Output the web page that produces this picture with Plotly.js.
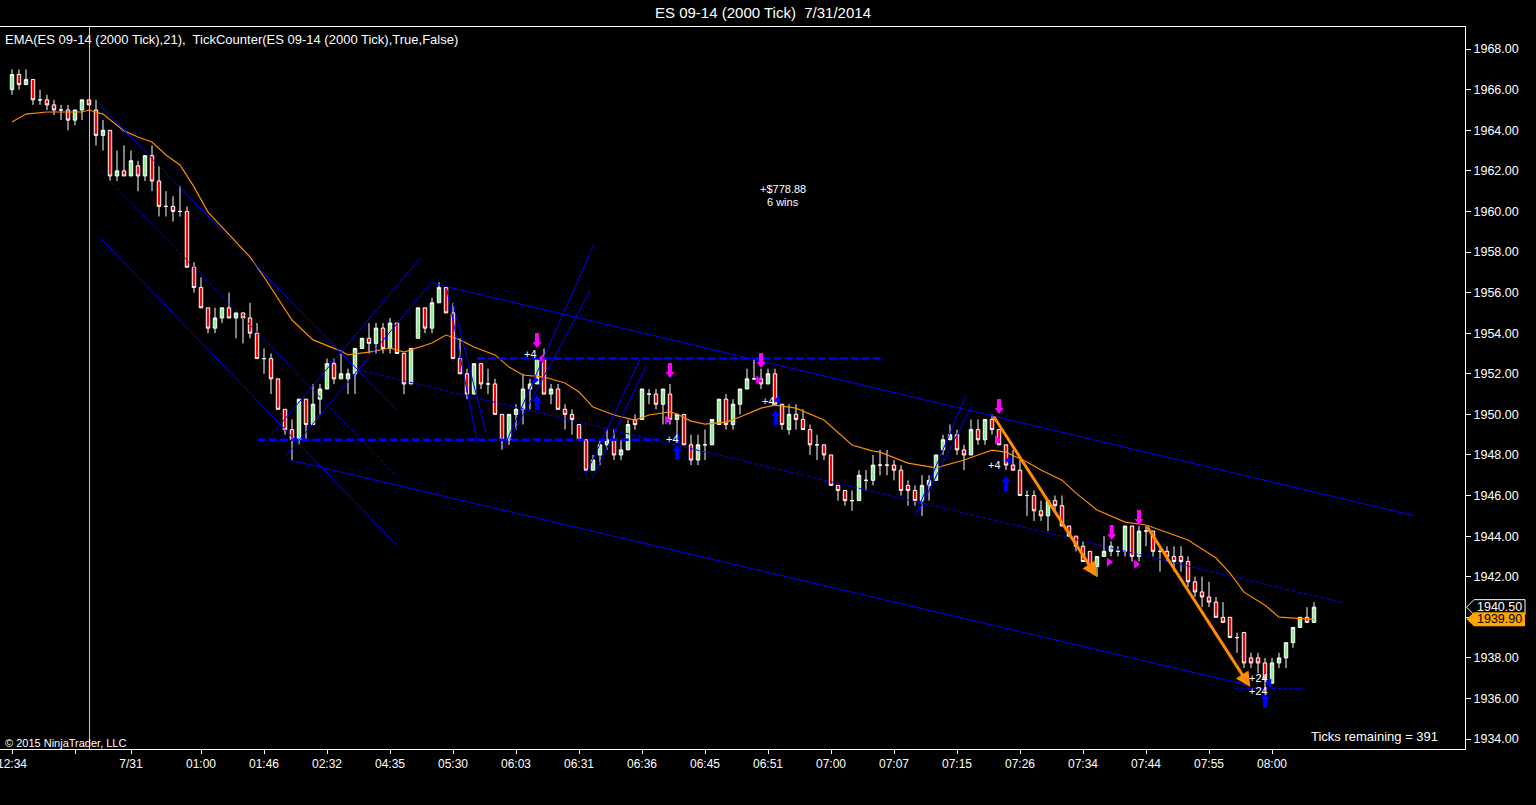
<!DOCTYPE html>
<html><head><meta charset="utf-8">
<script src="https://cdn.plot.ly/plotly-3.0.1.min.js"></script>
<style>html,body{margin:0;padding:0;background:#000;overflow:hidden}#chart{width:1536px;height:805px}</style>
</head><body><div id="chart"></div>
<script>
// ---------- price bars (ES 09-14, 2000 tick) ----------
const open = [
1966.00,1966.75,1966.25,1966.50,1965.50,1965.50,1965.25,1965.00,1965.00,1964.50,
1965.00,1965.50,1965.00,1963.75,1964.00,1961.75,1962.00,1961.75,1962.25,1961.75,
1962.75,1961.50,1960.25,1960.25,1960.00,1960.00,1957.25,1956.25,1955.25,1954.25,
1954.75,1955.25,1954.75,1955.00,1954.75,1954.00,1952.75,1952.75,1951.75,1950.25,
1949.25,1948.75,1950.75,1949.50,1950.75,1951.25,1952.50,1951.75,1951.75,1952.00,
1953.25,1953.75,1953.50,1954.25,1953.25,1954.50,1953.00,1951.50,1953.75,1955.25,
1954.25,1955.50,1956.25,1955.00,1952.75,1952.00,1951.00,1952.50,1951.50,1951.50,
1950.00,1948.75,1950.00,1950.25,1951.25,1951.50,1952.75,1951.00,1951.25,1950.25,
1950.00,1949.50,1948.75,1947.25,1948.00,1948.50,1948.75,1948.00,1948.25,1949.75,
1949.75,1951.00,1951.00,1950.50,1951.00,1949.75,1950.00,1948.50,1947.75,1948.50,
1948.50,1949.50,1950.75,1949.50,1950.50,1951.25,1951.75,1951.75,1951.50,1952.00,
1950.50,1949.25,1950.00,1949.75,1949.25,1948.50,1948.50,1948.00,1946.50,1946.25,
1945.75,1945.75,1946.75,1946.75,1947.50,1947.50,1947.50,1947.25,1946.50,1946.25,
1945.75,1946.50,1946.75,1948.25,1948.75,1949.00,1948.25,1948.00,1949.25,1948.75,
1949.75,1949.25,1948.50,1947.50,1947.25,1946.00,1946.00,1945.25,1945.00,1945.75,
1945.50,1944.50,1944.00,1943.50,1943.25,1942.50,1943.00,1943.25,1943.25,1943.25,
1944.50,1943.00,1944.25,1944.25,1943.25,1943.25,1943.00,1943.00,1942.75,1941.75,
1941.25,1941.00,1940.75,1940.00,1940.00,1939.00,1939.25,1938.00,1938.00,1937.75,
1936.75,1937.75,1938.00,1938.75,1939.50,1940.00,1939.75
];
const high = [
1967.00,1967.00,1967.00,1966.50,1966.00,1965.75,1965.50,1965.25,1965.25,1965.00,
1965.50,1965.50,1965.50,1964.50,1964.00,1963.00,1963.25,1963.00,1962.50,1962.75,
1963.25,1962.25,1961.00,1960.75,1961.25,1960.25,1957.50,1956.75,1955.25,1955.25,
1955.25,1956.00,1955.00,1955.00,1955.50,1954.50,1953.25,1953.00,1951.75,1950.25,
1949.75,1950.75,1950.75,1951.50,1951.50,1952.75,1952.75,1953.00,1952.25,1953.25,
1953.75,1954.50,1954.50,1954.50,1954.75,1954.50,1953.00,1953.25,1955.25,1955.25,
1955.75,1956.50,1956.25,1955.50,1953.75,1952.25,1952.50,1952.50,1952.25,1951.75,
1950.00,1950.00,1950.50,1952.00,1951.75,1952.75,1953.25,1951.50,1951.50,1950.50,
1950.25,1949.50,1948.75,1948.00,1948.75,1949.25,1949.25,1948.75,1949.75,1950.00,
1951.25,1951.25,1951.25,1951.25,1951.50,1950.00,1950.00,1949.00,1949.00,1949.25,
1949.75,1950.75,1951.00,1950.75,1951.25,1952.25,1952.75,1952.25,1952.25,1952.25,
1950.50,1950.50,1950.50,1950.25,1949.50,1949.00,1948.50,1948.00,1946.50,1946.25,
1946.25,1947.25,1947.25,1948.00,1948.25,1948.25,1947.75,1947.50,1946.75,1946.50,
1947.00,1947.00,1948.00,1949.00,1949.50,1949.25,1948.50,1949.75,1949.75,1949.75,
1950.00,1949.25,1948.50,1948.25,1947.75,1946.25,1946.25,1945.75,1945.75,1946.00,
1946.00,1944.50,1944.00,1943.75,1943.25,1943.00,1944.00,1943.75,1943.50,1944.50,
1944.50,1944.50,1944.50,1944.25,1943.50,1943.50,1943.50,1943.50,1943.00,1942.00,
1942.00,1941.75,1941.00,1940.75,1940.00,1939.25,1939.25,1938.25,1938.25,1938.00,
1938.00,1938.25,1938.75,1939.50,1940.00,1940.50,1940.75
];
const low = [
1965.75,1966.00,1966.25,1965.25,1965.25,1965.00,1964.75,1964.50,1964.00,1964.25,
1964.50,1965.25,1963.25,1963.00,1961.50,1961.50,1961.75,1961.75,1961.00,1961.50,
1961.00,1959.75,1959.75,1959.50,1959.75,1957.25,1956.00,1955.25,1954.00,1954.00,
1954.50,1954.75,1953.75,1953.50,1953.75,1952.75,1952.00,1951.00,1950.25,1949.00,
1947.75,1948.50,1948.75,1949.50,1950.00,1951.25,1951.50,1951.75,1951.00,1951.00,
1953.25,1953.00,1953.00,1953.00,1953.00,1953.00,1951.00,1951.50,1953.75,1954.00,
1954.00,1955.50,1955.00,1952.75,1952.00,1950.75,1951.00,1951.25,1951.00,1950.00,
1948.25,1948.50,1949.25,1949.50,1950.25,1951.50,1951.00,1950.50,1950.25,1949.25,
1949.00,1948.75,1947.25,1947.25,1947.50,1948.25,1947.75,1947.75,1948.25,1949.25,
1949.75,1950.50,1950.25,1949.50,1949.50,1948.75,1948.50,1947.50,1947.50,1947.75,
1948.50,1949.50,1949.25,1949.25,1950.00,1951.25,1951.75,1951.25,1951.50,1950.50,
1949.25,1949.00,1949.25,1949.25,1948.00,1947.75,1947.75,1946.50,1945.75,1945.50,
1945.25,1945.75,1946.25,1946.50,1947.00,1947.00,1946.75,1946.00,1945.50,1945.50,
1945.00,1945.75,1946.75,1948.00,1948.75,1948.00,1947.25,1948.00,1948.50,1948.50,
1949.00,1948.50,1947.25,1947.25,1946.00,1945.00,1944.75,1944.75,1944.25,1945.25,
1944.50,1944.00,1943.25,1942.75,1942.25,1942.00,1943.00,1943.00,1943.00,1943.00,
1942.75,1942.75,1943.50,1943.00,1942.25,1942.75,1942.25,1942.25,1941.50,1941.00,
1940.50,1940.50,1940.00,1939.75,1939.00,1938.25,1937.50,1937.50,1937.25,1936.00,
1936.75,1937.50,1937.50,1938.50,1939.50,1939.75,1939.75
];
const close = [
1966.75,1966.25,1966.50,1965.50,1965.50,1965.25,1965.00,1965.00,1964.50,1965.00,
1965.50,1965.25,1963.75,1964.00,1961.75,1962.00,1961.75,1962.50,1961.75,1962.75,
1961.50,1960.25,1960.25,1960.00,1960.00,1957.25,1956.25,1955.25,1954.25,1954.75,
1955.25,1954.75,1955.00,1954.75,1954.00,1952.75,1952.75,1951.75,1950.25,1949.25,
1948.75,1950.75,1949.50,1950.50,1951.25,1952.50,1951.75,1952.00,1952.00,1953.25,
1953.75,1953.50,1954.25,1953.25,1954.50,1953.00,1951.50,1953.25,1955.25,1954.25,
1955.50,1956.25,1955.00,1952.75,1952.00,1951.00,1952.50,1951.50,1951.50,1950.00,
1948.75,1950.00,1950.25,1951.25,1951.50,1952.75,1951.00,1951.25,1950.25,1950.00,
1949.75,1948.75,1947.25,1947.75,1948.50,1948.75,1948.00,1948.25,1949.50,1949.50,
1951.25,1951.00,1950.50,1951.25,1949.75,1950.00,1948.50,1947.75,1948.50,1948.50,
1949.75,1950.75,1949.50,1950.50,1951.25,1951.75,1951.75,1951.50,1952.00,1950.50,
1949.50,1950.00,1949.75,1949.25,1948.50,1948.50,1948.00,1946.50,1946.25,1945.75,
1945.75,1947.00,1946.75,1947.50,1947.50,1947.50,1947.25,1946.25,1946.25,1945.75,
1946.50,1946.75,1948.00,1948.75,1949.00,1948.25,1948.00,1949.25,1948.75,1949.75,
1949.25,1948.50,1947.50,1947.25,1946.00,1946.00,1945.25,1945.00,1945.75,1945.50,
1944.50,1944.00,1943.50,1942.75,1942.50,1943.00,1943.25,1943.50,1943.25,1944.50,
1943.00,1944.25,1944.25,1943.25,1943.25,1943.00,1942.75,1942.75,1941.75,1941.25,
1941.00,1940.75,1940.00,1939.75,1939.00,1939.00,1937.75,1937.75,1937.75,1937.00,
1937.75,1938.00,1938.75,1939.50,1940.00,1939.75,1940.50
];

// ---------- EMA(21) ----------
const emaBar = [1,3,6,11,12,14,17,19,21,23,25,27,29,32,35,37,39,41,44,48,49,52,55,57,61,63,65,67,70,72,74,77,80,82,84,87,90,92,95,96,98,100,103,105,108,110,113,117,121,124,125,129,133,137,139,141,143,146,148,151,153,156,160,163,165,169,173,175,177,180,182,186,187];
const emaValue = [1964.41,1964.80,1964.90,1964.90,1965.00,1964.80,1963.97,1963.67,1963.42,1962.78,1962.29,1961.21,1959.97,1958.84,1957.76,1956.77,1955.69,1954.65,1953.67,1953.12,1952.93,1953.07,1953.27,1953.07,1953.52,1953.91,1953.67,1953.32,1952.93,1952.33,1951.94,1951.84,1951.55,1951.10,1950.36,1949.97,1949.72,1949.97,1950.12,1950.02,1949.67,1949.52,1949.62,1949.87,1950.31,1950.46,1950.31,1949.72,1948.49,1948.19,1948.14,1947.60,1947.36,1947.75,1948.00,1948.24,1948.14,1947.65,1947.26,1946.76,1946.12,1945.29,1944.69,1944.55,1944.30,1943.81,1942.92,1942.18,1941.24,1940.60,1940.01,1939.91,1939.90];

// ---------- axis ticks ----------
const timeTickBar = [1,10,18,28,37,46,55,64,73,82,91,100,109,118,127,136,145,154,163,172,181];
const timeTickLabel = ["12:34","","7/31","01:00","01:46","02:32","04:35","05:30","06:03","06:31","06:36","06:45","06:51","07:00","07:07","07:15","07:26","07:34","07:44","07:55","08:00"];
const priceTicks = [1934,1936,1938,1940,1942,1944,1946,1948,1950,1952,1954,1956,1958,1960,1962,1964,1966,1968];

// ---------- drawn trend lines: [bar0, price0, bar1, price1] ----------
const solidLines = [
 [13.1,1965.4,56.0,1950.2],
 [13.6,1958.7,56.1,1943.5],
 [38.1,1949.0,59.3,1957.7],
 [40.0,1947.9,60.7,1956.4],
 [60.6,1956.5,201.4,1945.0],
 [40.7,1947.75,177.6,1936.65],
 [63.1,1956.2,67.4,1948.75],
 [64.0,1955.5,68.7,1949.1],
 [71.1,1948.25,84.1,1958.35],
 [72.1,1948.75,83.6,1956.1],
 [82.9,1947.0,90.7,1952.7],
 [83.9,1946.85,91.7,1952.45],
 [130.0,1945.0,137.3,1950.95],
 [130.4,1945.15,137.9,1950.3]
];
const dottedLines = [
 [13.6,1962.0,56.1,1946.9],
 [50.3,1952.2,191.4,1940.7]
];
const levelLines = [ // [bar0, bar1, price]
 [36.1,93.6,1948.75],
 [67.4,125.3,1952.75]
];
const thinLevelLines = [
 [175.7,185.4,1936.5]
];
// orange drawn arrows: [barFrom, priceFrom, barTo, priceTo]
const drawnArrows = [
 [141.1,1949.97,156.0,1941.98],
 [163.0,1944.55,177.9,1936.56]
];

// ---------- trade markers ----------
const sellArrowBar = [76,95,108,142,158.1,162];
const sellArrowPrice = [1953.27,1951.79,1952.28,1950.02,1943.81,1944.55];
const buyArrowBar = [76,96,110.1,143,180];
const buyArrowPrice = [1950.95,1948.49,1950.21,1946.96,1936.27];
const sellFillBar = [76.6,94.6,107.6,141.7,157.7,161.6];
const sellFillPrice = [1952.73,1949.72,1951.69,1948.74,1942.72,1942.62];
const buyFillBar = [75.7,96.0,110.4,143.4,180.6];
const buyFillPrice = [1951.69,1948.79,1950.71,1947.75,1936.76];
const tradeLabelBar = [75.1,95.3,109.1,141.4,179,179];
const tradeLabelPrice = [1952.97,1948.79,1950.66,1947.50,1937.01,1936.37];
const tradeLabelText = ["+4","+4","+4","+4","+24","+24"];

const lastPrice = 1940.50;
const lastEma = 1939.90;
const ticksRemaining = 391;
const sessionBreakBar = 12.07;

// ---------- build ----------
const FONT = "Arial, 'Liberation Sans', sans-serif";
const BLUE = "#0000ff";
const MAG = "#ff00ff";
const ORANGE = "#ff8c00";
const barIndex = open.map((_, k) => k + 1);

const sellFillSymbols = sellFillBar.map((_, k) => k === 0 ? "triangle-left" : "triangle-right");
const buyFillSymbols = buyFillBar.map((_, k) => k === 0 ? "triangle-right" : "triangle-left");

const traces = [
 {type:"candlestick", x:barIndex, open:open, high:high, low:low, close:close,
  increasing:{line:{color:"#ffffff",width:1}, fillcolor:"#90ee90"},
  decreasing:{line:{color:"#ffffff",width:1}, fillcolor:"#ff0000"},
  whiskerwidth:0, hoverinfo:"skip", showlegend:false},
 {type:"scatter", mode:"lines", x:emaBar, y:emaValue, line:{color:ORANGE,width:1.2},
  hoverinfo:"skip", showlegend:false},
 {type:"scatter", mode:"markers", x:sellFillBar, y:sellFillPrice,
  marker:{symbol:sellFillSymbols, size:8, color:MAG, line:{width:0}}, hoverinfo:"skip", showlegend:false},
 {type:"scatter", mode:"markers", x:buyFillBar, y:buyFillPrice,
  marker:{symbol:buyFillSymbols, size:8, color:BLUE, line:{width:0}}, hoverinfo:"skip", showlegend:false}
];

const shapes = [];
solidLines.forEach(l => shapes.push({type:"line", xref:"x", yref:"y", x0:l[0], y0:l[1], x1:l[2], y1:l[3], line:{color:BLUE,width:1}}));
dottedLines.forEach(l => shapes.push({type:"line", xref:"x", yref:"y", x0:l[0], y0:l[1], x1:l[2], y1:l[3], line:{color:BLUE,width:1,dash:"4px,2px"}}));
levelLines.forEach(l => shapes.push({type:"line", xref:"x", yref:"y", x0:l[0], y0:l[2], x1:l[1], y1:l[2], line:{color:BLUE,width:2.5,dash:"8px,3px"}}));
thinLevelLines.forEach(l => shapes.push({type:"line", xref:"x", yref:"y", x0:l[0], y0:l[2], x1:l[1], y1:l[2], line:{color:BLUE,width:1,dash:"4px,2px"}}));
shapes.push({type:"line", xref:"x", yref:"paper", x0:sessionBreakBar, x1:sessionBreakBar, y0:0, y1:1, line:{color:"#c8c8c8",width:1}});

const downArrowPath = "M-2,15 L2,15 L2,6 L4.5,6 L0,0 L-4.5,6 L-2,6 Z";
const upArrowPath = "M-2,-15 L2,-15 L2,-6 L4.5,-6 L0,0 L-4.5,-6 L-2,-6 Z";
sellArrowBar.forEach((b, k) => shapes.push({type:"path", xref:"x", yref:"y", xsizemode:"pixel", ysizemode:"pixel",
  xanchor:b, yanchor:sellArrowPrice[k], path:downArrowPath, fillcolor:MAG, line:{width:0}}));
buyArrowBar.forEach((b, k) => shapes.push({type:"path", xref:"x", yref:"y", xsizemode:"pixel", ysizemode:"pixel",
  xanchor:b, yanchor:buyArrowPrice[k], path:upArrowPath, fillcolor:BLUE, line:{width:0}}));

// price markers on the right scale
shapes.push({type:"path", xref:"paper", yref:"y", xsizemode:"pixel", ysizemode:"pixel", xanchor:1, yanchor:lastPrice,
  path:"M1.5,0 L9,7.5 L60,7.5 L60,-7.5 L9,-7.5 Z", fillcolor:"#000000", line:{color:"#ffffff",width:1}});
shapes.push({type:"path", xref:"paper", yref:"y", xsizemode:"pixel", ysizemode:"pixel", xanchor:1, yanchor:lastEma,
  path:"M1.5,0 L9,7 L60,7 L60,-7 L9,-7 Z", fillcolor:"#ffa500", line:{width:0}});

const annotations = [];
drawnArrows.forEach(a => annotations.push({xref:"x", yref:"y", axref:"x", ayref:"y",
  x:a[2], y:a[3], ax:a[0], ay:a[1], text:"", showarrow:true, arrowhead:2, arrowsize:1, arrowwidth:3, arrowcolor:ORANGE}));
tradeLabelBar.forEach((b, k) => annotations.push({xref:"x", yref:"y", x:b, y:tradeLabelPrice[k], text:tradeLabelText[k],
  showarrow:false, font:{family:FONT,size:11,color:"#ffffff"}, xanchor:"center", yanchor:"middle"}));
annotations.push({xref:"x", yref:"y", x:111.1, y:1961.1, text:"+$778.88", showarrow:false, font:{family:FONT,size:11,color:"#ffffff"}});
annotations.push({xref:"x", yref:"y", x:111.1, y:1960.45, text:"6 wins", showarrow:false, font:{family:FONT,size:11,color:"#ffffff"}});
annotations.push({xref:"paper", yref:"paper", x:0.002, y:0.982, xanchor:"left", yanchor:"middle", showarrow:false,
  text:"EMA(ES 09-14 (2000 Tick),21),  TickCounter(ES 09-14 (2000 Tick),True,False)", font:{family:FONT,size:13,color:"#ffffff"}});
annotations.push({xref:"paper", yref:"paper", x:0.002, y:0.008, xanchor:"left", yanchor:"middle", showarrow:false,
  text:"© 2015 NinjaTrader, LLC", font:{family:FONT,size:11,color:"#ffffff"}});
annotations.push({xref:"paper", yref:"paper", x:0.983, y:0.018, xanchor:"right", yanchor:"middle", showarrow:false,
  text:"Ticks remaining = " + ticksRemaining, font:{family:FONT,size:13,color:"#ffffff"}});
annotations.push({xref:"paper", yref:"y", x:1.0068, y:lastPrice, xanchor:"left", yanchor:"middle", showarrow:false,
  text:lastPrice.toFixed(2), font:{family:FONT,size:12.5,color:"#ffffff"}});
annotations.push({xref:"paper", yref:"y", x:1.0068, y:lastEma, xanchor:"left", yanchor:"middle", showarrow:false,
  text:lastEma.toFixed(2), font:{family:FONT,size:12.5,color:"#000000"}});

const layout = {
  width:1536, height:805,
  paper_bgcolor:"#000000", plot_bgcolor:"#000000",
  margin:{l:0, r:71, t:27, b:56},
  showlegend:false,
  title:{text:"ES 09-14 (2000 Tick)\u00a0\u00a07/31/2014", font:{family:FONT,size:15,color:"#ffffff"},
    x:763/1536, xanchor:"center", xref:"container", y:1-13/805, yanchor:"middle", yref:"container"},
  xaxis:{type:"linear", range:[-0.714,208.57], tickvals:timeTickBar, ticktext:timeTickLabel,
    ticks:"outside", ticklen:4, tickcolor:"#ffffff", tickwidth:1,
    showline:true, linecolor:"#ffffff", linewidth:1, mirror:true,
    showgrid:false, zeroline:false, rangeslider:{visible:false}, ticklabeloverflow:"allow",
    tickfont:{family:FONT,size:12,color:"#ffffff"}, fixedrange:true},
  yaxis:{side:"right", range:[1933.51,1969.09], tickvals:priceTicks, tickformat:".2f",
    ticks:"outside", ticklen:5, tickcolor:"#ffffff", tickwidth:1,
    showline:true, linecolor:"#ffffff", linewidth:1, mirror:true,
    showgrid:false, zeroline:false, tickfont:{family:FONT,size:12.5,color:"#ffffff"}, fixedrange:true},
  shapes:shapes,
  annotations:annotations,
  hovermode:false
};

Plotly.newPlot("chart", traces, layout, {displayModeBar:false, staticPlot:true});
</script>
</body></html>
